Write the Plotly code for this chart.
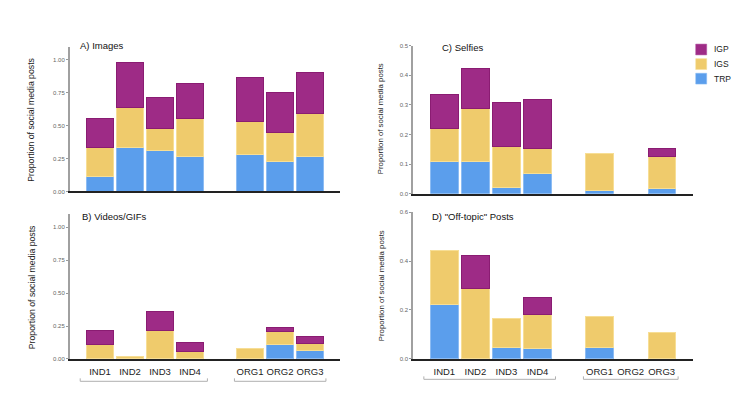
import plotly.graph_objects as go

# ---------------- data ----------------
categories = ["IND1", "IND2", "IND3", "IND4", "ORG1", "ORG2", "ORG3"]
slots = [0, 1, 2, 3, 5, 6, 7]  # slot 4 left empty between groups

series_names = ["TRP", "IGS", "IGP"]  # stacking order bottom -> top

# A) Images
a_trp = [0.110, 0.332, 0.309, 0.264, 0.284, 0.227, 0.264]
a_igs = [0.222, 0.306, 0.170, 0.290, 0.250, 0.219, 0.332]
a_igp = [0.222, 0.340, 0.234, 0.266, 0.334, 0.307, 0.307]

# B) Videos/GIFs
b_trp = [0.000, 0.000, 0.000, 0.000, 0.000, 0.107, 0.065]
b_igs = [0.107, 0.022, 0.219, 0.057, 0.082, 0.105, 0.055]
b_igp = [0.112, 0.000, 0.143, 0.065, 0.000, 0.030, 0.047]

# C) Selfies
c_trp = [0.110, 0.110, 0.023, 0.070, 0.012, 0.000, 0.017]
c_igs = [0.112, 0.179, 0.138, 0.083, 0.125, 0.000, 0.110]
c_igp = [0.112, 0.133, 0.147, 0.166, 0.000, 0.000, 0.025]

# D) "Off-topic" Posts
d_trp = [0.223, 0.000, 0.047, 0.042, 0.048, 0.000, 0.000]
d_igs = [0.221, 0.287, 0.117, 0.141, 0.126, 0.000, 0.110]
d_igp = [0.000, 0.134, 0.000, 0.067, 0.000, 0.000, 0.000]

ab_ticks = [0, 0.25, 0.5, 0.75, 1.0]
ab_ticktext = ["0.00", "0.25", "0.50", "0.75", "1.00"]
c_ticks = [0, 0.1, 0.2, 0.3, 0.4, 0.5]
c_ticktext = ["0.0", "0.1", "0.2", "0.3", "0.4", "0.5"]
d_ticks = [0, 0.2, 0.4, 0.6]
d_ticktext = ["0.0", "0.2", "0.4", "0.6"]

panel_titles = ["A) Images", "B) Videos/GIFs", "C) Selfies", "D) \"Off-topic\" Posts"]
y_title = "Proportion of social media posts"
legend_order = ["IGP", "IGS", "TRP"]

# ---------------- styles ----------------
colors = {"TRP": "#5B9EEC", "IGS": "#EFCB6C", "IGP": "#9E2B86"}
edge = {"TRP": "#8DBCF3", "IGS": "#F7DE95", "IGP": "#8A1C72"}
FONT = "Liberation Sans, Arial, Helvetica, sans-serif"

fig = go.Figure()

panels = [
    ("x", "y", [a_trp, a_igs, a_igp]),
    ("x2", "y2", [b_trp, b_igs, b_igp]),
    ("x3", "y3", [c_trp, c_igs, c_igp]),
    ("x4", "y4", [d_trp, d_igs, d_igp]),
]
for xa, ya, vals in panels:
    for name, v in zip(series_names, vals):
        fig.add_trace(go.Bar(
            x=slots, y=[val if val > 0 else None for val in v], name=name,
            xaxis=xa, yaxis=ya, width=0.88,
            marker=dict(color=colors[name], line=dict(color=edge[name], width=1)),
            showlegend=False, hoverinfo="skip",
        ))

xl = [0.0946, 0.4595]
xr = [0.5585, 0.9361]
dom_top_left = [0.5265, 0.8903]
dom_bot_left = [0.1057, 0.4696]
dom_top_right = [0.5205, 0.8926]
dom_bot_right = [0.1057, 0.4745]

def xaxis(domain, anchor, labels):
    d = dict(domain=domain, anchor=anchor, range=[-1, 8], showline=True,
             linecolor="#222", linewidth=1.5, showgrid=False, zeroline=False,
             ticks="", fixedrange=True)
    if labels:
        d.update(tickmode="array", tickvals=slots, ticktext=categories, tickangle=0,
                 ticklabelstandoff=3,
                 tickfont=dict(size=9.5, color="#222", family=FONT))
    else:
        d.update(showticklabels=False)
    return d

def yaxis(domain, anchor, rng, tv, tt):
    return dict(domain=domain, anchor=anchor, range=rng, tickmode="array",
                tickvals=tv, ticktext=tt, showline=True, linecolor="#a0a0a0",
                linewidth=2, ticks="outside", ticklen=2, tickcolor="#999",
                tickwidth=1, tickfont=dict(size=6, color="#666", family=FONT),
                showgrid=False, zeroline=False, fixedrange=True)

fig.update_layout(
    width=740, height=404, margin=dict(l=0, r=0, t=0, b=0),
    paper_bgcolor="white", plot_bgcolor="white", barmode="stack",
    font=dict(family=FONT),
    xaxis=xaxis(xl, "y", False),
    xaxis2=xaxis(xl, "y2", True),
    xaxis3=xaxis(xr, "y3", False),
    xaxis4=xaxis(xr, "y4", True),
    yaxis=yaxis(dom_top_left, "x", [0, 1.1], ab_ticks, ab_ticktext),
    yaxis2=yaxis(dom_bot_left, "x2", [0, 1.1], ab_ticks, ab_ticktext),
    yaxis3=yaxis(dom_top_right, "x3", [0, 0.5], c_ticks, c_ticktext),
    yaxis4=yaxis(dom_bot_right, "x4", [0, 0.6], d_ticks, d_ticktext),
)

W, H = 740.0, 404.0
def px(x, y):
    return x / W, 1 - y / H

ann = []
# panel titles
for title, (x, y) in zip(panel_titles, [(78, 43), (80, 217), (440, 45), (430, 217)]):
    px_, py_ = px(x, y)
    ann.append(dict(text=title, x=px_, y=py_, xref="paper", yref="paper",
                    xanchor="left", yanchor="middle", showarrow=False,
                    font=dict(size=9.5, color="#111", family=FONT)))
# y axis titles
for (x, y, s) in [(31.5, 119, 8.7), (31.5, 289, 8.7), (380, 118, 7.8), (381.5, 287, 7.8)]:
    px_, py_ = px(x, y)
    ann.append(dict(text=y_title, x=px_, y=py_, xref="paper", yref="paper",
                    xanchor="center", yanchor="middle", textangle=-90, showarrow=False,
                    font=dict(size=s, color="#222", family=FONT)))
# legend (manual)
shapes = []
for i, name in enumerate(legend_order):
    top = 41.7 + i * 14.8
    x0, y0 = px(695.7, top)
    x1, y1 = px(706.7, top + 11)
    shapes.append(dict(type="rect", xref="paper", yref="paper", x0=x0, x1=x1,
                       y0=y1, y1=y0, fillcolor=colors[name],
                       line=dict(color=edge[name] if name != "IGP" else "#B050A0", width=0.5)))
    lx, ly = px(711.5, top + 5.5)
    ann.append(dict(text=name, x=lx, y=ly, xref="paper", yref="paper",
                    xanchor="left", yanchor="middle", showarrow=False,
                    font=dict(size=8.5, color="#222", family=FONT)))

# group brackets under category labels
for xa, ybr in [("x2", 384), ("x4", 382)]:
    for (a, b) in [(-0.66, 3.58), (4.48, 7.53)]:
        _, yb = px(0, ybr)
        _, yt = px(0, ybr - 3)
        shapes.append(dict(type="line", xref=xa, yref="paper", x0=a, x1=b, y0=yb, y1=yb,
                           line=dict(color="#b0b0b0", width=1)))
        for e in (a, b):
            shapes.append(dict(type="line", xref=xa, yref="paper", x0=e, x1=e, y0=yb, y1=yt,
                               line=dict(color="#b0b0b0", width=1)))

fig.update_layout(annotations=ann, shapes=shapes)
fig.write_html("out.html", config={"displayModeBar": False},
               post_script="document.body.style.margin='0';document.body.style.overflow='hidden';")
